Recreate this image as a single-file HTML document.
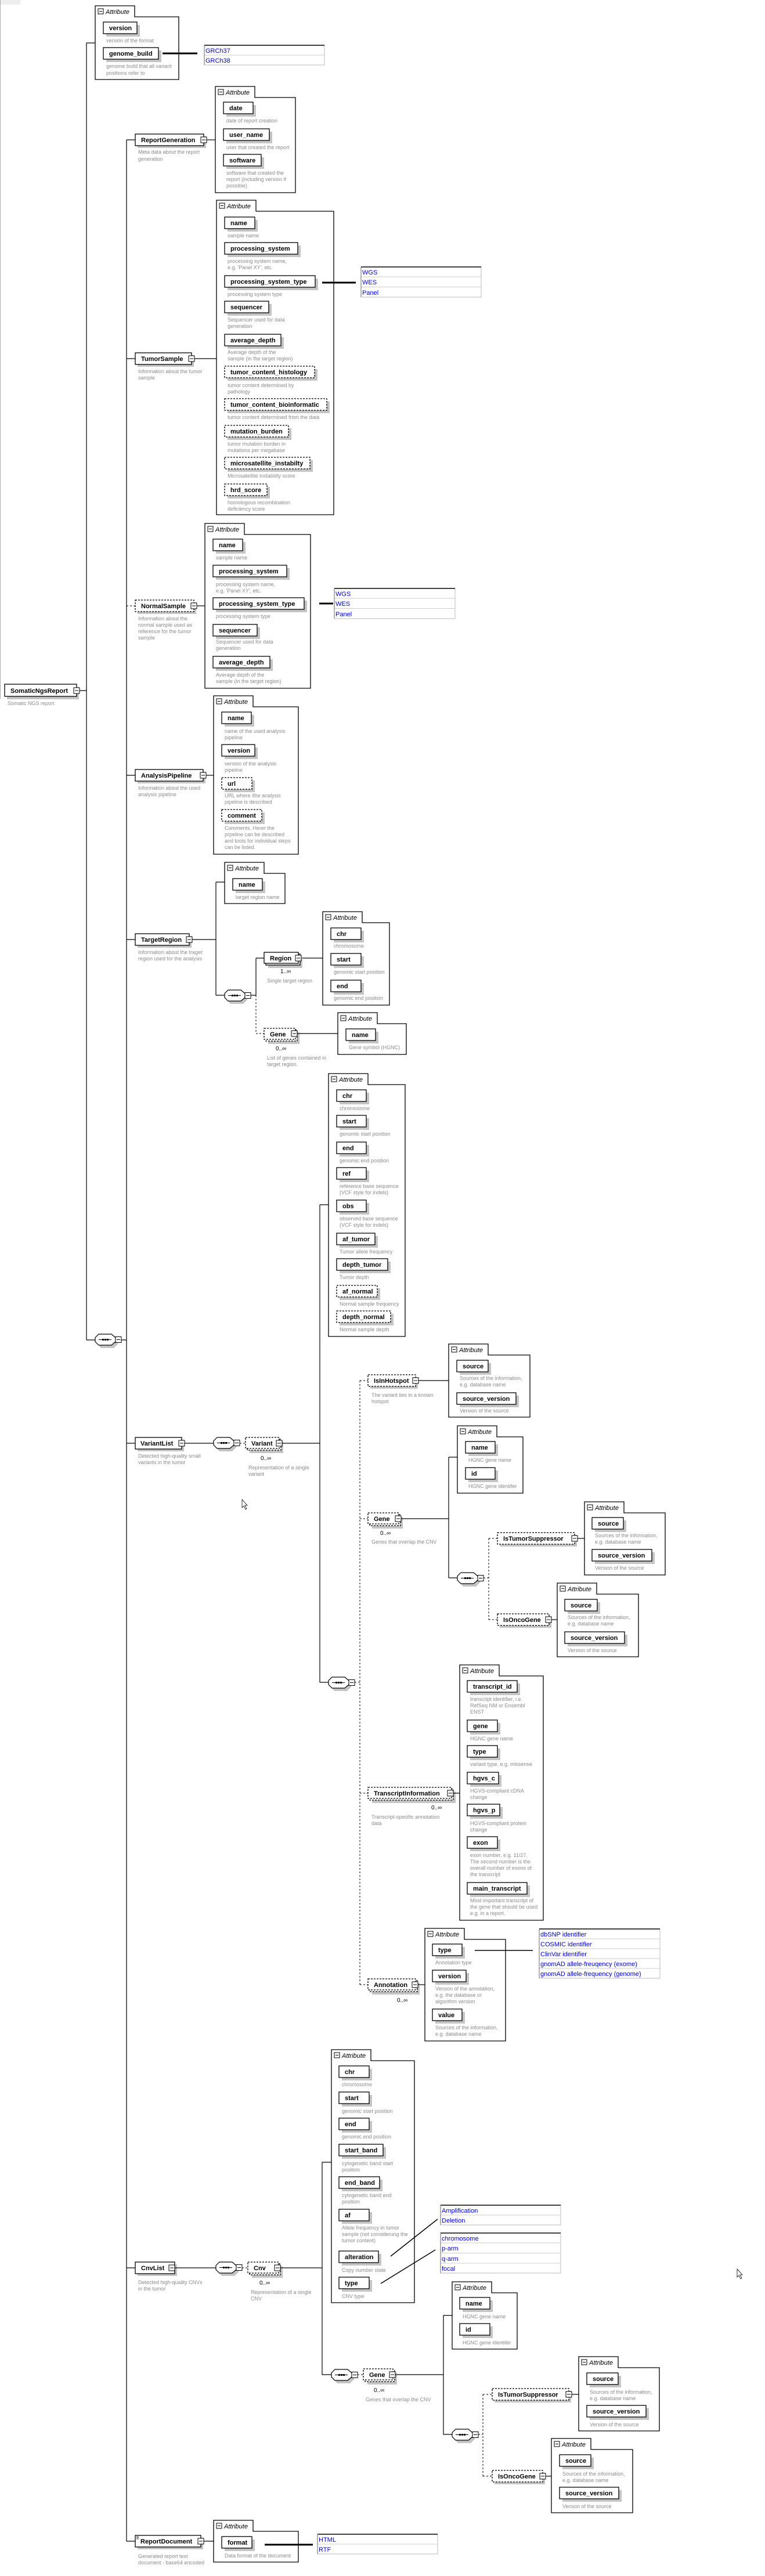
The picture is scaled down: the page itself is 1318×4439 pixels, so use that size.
<!DOCTYPE html>
<html><head><meta charset="utf-8"><style>
html,body{margin:0;padding:0;background:#fff}
svg{display:block}
text{font-family:"Liberation Sans",sans-serif}
.b{fill:#fff;stroke:#000;stroke-width:1.3}
.d{fill:#fff;stroke:#000;stroke-width:1.3;stroke-dasharray:3 2}
.s{fill:#c4c4c4}
.l{stroke:#000;stroke-width:1.2;fill:none}
.dl{stroke:#000;stroke-width:1;stroke-dasharray:3 3;fill:none}
.tk{stroke:#000;stroke-width:3;fill:none}
.n{font-weight:bold;font-size:11px;fill:#000}
.t{font-size:9px;fill:#8c8c8c}
.a{font-style:italic;font-size:11px;fill:#000}
.e{font-size:11px;fill:#0000ee}
.m{font-size:10px;fill:#000}
</style></head><body>
<svg width="1318" height="4439" viewBox="0 0 1318 4439" xmlns="http://www.w3.org/2000/svg">
<defs>
<g id="ex"><rect x="0" y="0" width="10" height="10" fill="#fff" stroke="#000" stroke-width="1"/><line x1="2" y1="5" x2="8" y2="5" stroke="#000"/></g>
<g id="sq"><polygon points="10,4 32,4 39,10 39,17 32,24 10,24 4,17 4,10" fill="#c4c4c4"/><polygon points="6,0 28,0 35,6 35,13 28,19 6,19 0,13 0,6" fill="#fff" stroke="#000" stroke-width="1.2"/><line x1="6" y1="9.5" x2="28" y2="9.5" stroke="#000"/><rect x="12" y="8" width="3" height="3"/><rect x="16" y="8" width="3" height="3"/><rect x="20" y="8" width="3" height="3"/><use href="#ex" x="35" y="4.5"/></g>
<g id="at"><rect x="5" y="5" width="9" height="9" fill="#fff" stroke="#000"/><line x1="7" y1="9.5" x2="12" y2="9.5" stroke="#000"/><text class="a" x="18" y="14">Attribute</text></g>
</defs>
<rect x="0" y="0" width="35" height="8" fill="#eee"/>
<line x1="0.5" y1="0" x2="0.5" y2="1204" stroke="#aaa"/>

<!-- main connectors -->
<path class="l" d="M149 74 V2309 M149 74 H164 M135 1190 H149 M149 2309 H164 M209 2309 H218 M218 241 V4379"/>
<path class="l" d="M218 241 H233 M218 618 H233 M218 1336 H233 M218 1619 H233 M218 2487 H233 M218 3908 H233 M218 4379 H233"/>
<path class="dl" d="M218 1044 H233"/>

<!-- root -->
<rect class="s" x="12" y="1184" width="124" height="21"/><rect class="b" x="8" y="1179" width="124" height="21"/><text class="n" x="18" y="1194">SomaticNgsReport</text><use href="#ex" x="127" y="1185"/>
<text class="t" x="13" y="1215">Somatic NGS report</text>

<!-- A1 -->
<g transform="translate(164,10)"><path class="b" d="M0 0h68v19H144V127H0Z"/><use href="#at"/></g>
<g transform="translate(178,38)"><rect class="s" x="5" y="5" width="58" height="20"/><rect class="b" width="58" height="20"/><text class="n" x="10" y="14">version</text></g>
<text class="t" x="183" y="73">version of the format</text>
<g transform="translate(178,82)"><rect class="s" x="5" y="5" width="95" height="20"/><rect class="b" width="95" height="20"/><text class="n" x="10" y="14">genome_build</text></g>
<text class="t" x="183" y="117">genome build that all variant</text><text class="t" x="183" y="129">positions refer to</text>
<line class="tk" x1="280" y1="92" x2="340" y2="92"/>
<g transform="translate(352,78)"><rect width="207" height="34" fill="#fff" stroke="#bbb"/><line x1="0" y1="17" x2="207" y2="17" stroke="#ccc"/><line x1="0" y1="0" x2="207" y2="0" stroke="#000" stroke-width="1.5"/><line x1="0" y1="0" x2="0" y2="34" stroke="#666"/><text class="e" x="2" y="13">GRCh37</text><text class="e" x="2" y="30">GRCh38</text></g>

<!-- ReportGeneration -->
<rect class="s" x="237" y="235" width="118" height="20"/><rect class="b" x="233" y="231" width="118" height="20"/><text class="n" x="243" y="245">ReportGeneration</text><use href="#ex" x="346" y="236"/>
<line class="l" x1="356" y1="241" x2="371" y2="241"/>
<text class="t" x="238" y="265">Meta data about the report</text><text class="t" x="238" y="277">generation</text>
<g transform="translate(371,149)"><path class="b" d="M0 0h68v19H138V183H0Z"/><use href="#at"/></g>
<g transform="translate(385,176)"><rect class="s" x="5" y="5" width="51" height="20"/><rect class="b" width="51" height="20"/><text class="n" x="10" y="14">date</text></g>
<text class="t" x="390" y="211">date of report creation</text>
<g transform="translate(385,222)"><rect class="s" x="5" y="5" width="79" height="20"/><rect class="b" width="79" height="20"/><text class="n" x="10" y="14">user_name</text></g>
<text class="t" x="390" y="257">user that created the report</text>
<g transform="translate(385,266)"><rect class="s" x="5" y="5" width="65" height="20"/><rect class="b" width="65" height="20"/><text class="n" x="10" y="14">software</text></g>
<text class="t" x="390" y="301">software that created the</text><text class="t" x="390" y="312">report (including version if</text><text class="t" x="390" y="323">possible)</text>

<!-- TumorSample -->
<rect class="s" x="237" y="612" width="97" height="20"/><rect class="b" x="233" y="608" width="97" height="20"/><text class="n" x="243" y="622">TumorSample</text><use href="#ex" x="325" y="613"/>
<line class="l" x1="335" y1="618" x2="373" y2="618"/>
<text class="t" x="238" y="643">Information about the tumor</text><text class="t" x="238" y="654">sample</text>
<g transform="translate(373,345)"><path class="b" d="M0 0h68v19H202V542H0Z"/><use href="#at"/></g>
<g transform="translate(387,374)"><rect class="s" x="5" y="5" width="52" height="20"/><rect class="b" width="52" height="20"/><text class="n" x="10" y="14">name</text></g>
<text class="t" x="392" y="409">sample name</text>
<g transform="translate(387,418)"><rect class="s" x="5" y="5" width="126" height="20"/><rect class="b" width="126" height="20"/><text class="n" x="10" y="14">processing_system</text></g>
<text class="t" x="392" y="453">processing system name,</text><text class="t" x="392" y="464">e.g. 'Panel XY', etc.</text>
<g transform="translate(387,475)"><rect class="s" x="5" y="5" width="156" height="20"/><rect class="b" width="156" height="20"/><text class="n" x="10" y="14">processing_system_type</text></g>
<text class="t" x="392" y="510">processing system type</text>
<g transform="translate(387,519)"><rect class="s" x="5" y="5" width="76" height="20"/><rect class="b" width="76" height="20"/><text class="n" x="10" y="14">sequencer</text></g>
<text class="t" x="392" y="554">Sequencer used for data</text><text class="t" x="392" y="565">generation</text>
<g transform="translate(387,576)"><rect class="s" x="5" y="5" width="97" height="20"/><rect class="b" width="97" height="20"/><text class="n" x="10" y="14">average_depth</text></g>
<text class="t" x="392" y="610">Average depth of the</text><text class="t" x="392" y="621">sample (in the target region)</text>
<g transform="translate(387,631)"><rect class="s" x="5" y="5" width="155" height="20"/><rect class="d" width="155" height="20"/><text class="n" x="10" y="14">tumor_content_histology</text></g>
<text class="t" x="392" y="667">tumor content determined by</text><text class="t" x="392" y="678">pathology</text>
<g transform="translate(387,687)"><rect class="s" x="5" y="5" width="176" height="20"/><rect class="d" width="176" height="20"/><text class="n" x="10" y="14">tumor_content_bioinformatic</text></g>
<text class="t" x="392" y="722">tumor content determined from the data</text>
<g transform="translate(387,733)"><rect class="s" x="5" y="5" width="110" height="20"/><rect class="d" width="110" height="20"/><text class="n" x="10" y="14">mutation_burden</text></g>
<text class="t" x="392" y="768">tumor mutation burden in</text><text class="t" x="392" y="779">mutations per megabase</text>
<g transform="translate(387,788)"><rect class="s" x="5" y="5" width="147" height="20"/><rect class="d" width="147" height="20"/><text class="n" x="10" y="14">microsatellite_instabilty</text></g>
<text class="t" x="392" y="823">Microsatellite instabiilty score</text>
<g transform="translate(387,834)"><rect class="s" x="5" y="5" width="73" height="20"/><rect class="d" width="73" height="20"/><text class="n" x="10" y="14">hrd_score</text></g>
<text class="t" x="392" y="869">homologous recombination</text><text class="t" x="392" y="880">deficiency score</text>
<line class="tk" x1="555" y1="487" x2="613" y2="487"/>
<g transform="translate(622,460)"><rect width="207" height="52" fill="#fff" stroke="#bbb"/><line x1="0" y1="17" x2="207" y2="17" stroke="#ccc"/><line x1="0" y1="34.5" x2="207" y2="34.5" stroke="#ccc"/><line x1="0" y1="0" x2="207" y2="0" stroke="#000" stroke-width="1.5"/><line x1="0" y1="0" x2="0" y2="52" stroke="#666"/><text class="e" x="2" y="13">WGS</text><text class="e" x="2" y="30">WES</text><text class="e" x="2" y="48">Panel</text></g>

<!-- NormalSample -->
<rect class="s" x="237" y="1038" width="101" height="20"/><rect class="d" x="233" y="1034" width="101" height="20"/><text class="n" x="243" y="1048">NormalSample</text><use href="#ex" x="329" y="1039"/>
<line class="l" x1="339" y1="1044" x2="353" y2="1044"/>
<text class="t" x="238" y="1069">Information about the</text><text class="t" x="238" y="1080">normal sample used as</text><text class="t" x="238" y="1091">reference for the tumor</text><text class="t" x="238" y="1102">sample</text>
<g transform="translate(353,902)"><path class="b" d="M0 0h68v19H182V284H0Z"/><use href="#at"/></g>
<g transform="translate(367,929)"><rect class="s" x="5" y="5" width="51" height="20"/><rect class="b" width="51" height="20"/><text class="n" x="10" y="14">name</text></g>
<text class="t" x="372" y="964">sample name</text>
<g transform="translate(367,974)"><rect class="s" x="5" y="5" width="127" height="20"/><rect class="b" width="127" height="20"/><text class="n" x="10" y="14">processing_system</text></g>
<text class="t" x="372" y="1010">processing system name,</text><text class="t" x="372" y="1021">e.g. 'Panel XY', etc.</text>
<g transform="translate(367,1030)"><rect class="s" x="5" y="5" width="157" height="20"/><rect class="b" width="157" height="20"/><text class="n" x="10" y="14">processing_system_type</text></g>
<text class="t" x="372" y="1065">processing system type</text>
<g transform="translate(367,1076)"><rect class="s" x="5" y="5" width="76" height="20"/><rect class="b" width="76" height="20"/><text class="n" x="10" y="14">sequencer</text></g>
<text class="t" x="372" y="1109">Sequencer used for data</text><text class="t" x="372" y="1120">generation</text>
<g transform="translate(367,1131)"><rect class="s" x="5" y="5" width="98" height="20"/><rect class="b" width="98" height="20"/><text class="n" x="10" y="14">average_depth</text></g>
<text class="t" x="372" y="1166">Average depth of the</text><text class="t" x="372" y="1177">sample (in the target region)</text>
<line class="tk" x1="550" y1="1040" x2="574" y2="1040"/>
<g transform="translate(576,1014)"><rect width="208" height="52" fill="#fff" stroke="#bbb"/><line x1="0" y1="17" x2="208" y2="17" stroke="#ccc"/><line x1="0" y1="34.5" x2="208" y2="34.5" stroke="#ccc"/><line x1="0" y1="0" x2="208" y2="0" stroke="#000" stroke-width="1.5"/><line x1="0" y1="0" x2="0" y2="52" stroke="#666"/><text class="e" x="2" y="13">WGS</text><text class="e" x="2" y="30">WES</text><text class="e" x="2" y="48">Panel</text></g>

<!-- AnalysisPipeline -->
<rect class="s" x="237" y="1330" width="117" height="20"/><rect class="b" x="233" y="1326" width="117" height="20"/><text class="n" x="243" y="1340">AnalysisPipeline</text><use href="#ex" x="345" y="1331"/>
<line class="l" x1="355" y1="1336" x2="368" y2="1336"/>
<text class="t" x="238" y="1361">Information about the used</text><text class="t" x="238" y="1372">analysis pipeline</text>
<g transform="translate(368,1199)"><path class="b" d="M0 0h68v19H146V273H0Z"/><use href="#at"/></g>
<g transform="translate(382,1227)"><rect class="s" x="5" y="5" width="51" height="20"/><rect class="b" width="51" height="20"/><text class="n" x="10" y="14">name</text></g>
<text class="t" x="387" y="1263">name of the used analysis</text><text class="t" x="387" y="1274">pipeline</text>
<g transform="translate(382,1283)"><rect class="s" x="5" y="5" width="57" height="20"/><rect class="b" width="57" height="20"/><text class="n" x="10" y="14">version</text></g>
<text class="t" x="387" y="1319">version of the analysis</text><text class="t" x="387" y="1330">pipeline</text>
<g transform="translate(382,1340)"><rect class="s" x="5" y="5" width="52" height="20"/><rect class="d" width="52" height="20"/><text class="n" x="10" y="14">url</text></g>
<text class="t" x="387" y="1374">URL where ithe analysis</text><text class="t" x="387" y="1385">pipeline is described</text>
<g transform="translate(382,1395)"><rect class="s" x="5" y="5" width="69" height="20"/><rect class="d" width="69" height="20"/><text class="n" x="10" y="14">comment</text></g>
<text class="t" x="387" y="1430">Comments. Herer the</text><text class="t" x="387" y="1441">prpeline can be described</text><text class="t" x="387" y="1452">and tools for individual steps</text><text class="t" x="387" y="1463">can be listed.</text>

<!-- TargetRegion -->
<rect class="s" x="237" y="1613" width="93" height="20"/><rect class="b" x="233" y="1609" width="93" height="20"/><text class="n" x="243" y="1623">TargetRegion</text><use href="#ex" x="321" y="1614"/>
<path class="l" d="M331 1619 H372 M372 1520 V1715 M372 1520 H387 M372 1715 H387"/>
<text class="t" x="238" y="1644">Information about the traget</text><text class="t" x="238" y="1655">region used for the analysis</text>
<g transform="translate(387,1486)"><path class="b" d="M0 0h68v19H104V71H0Z"/><use href="#at"/></g>
<g transform="translate(401,1514)"><rect class="s" x="5" y="5" width="51" height="20"/><rect class="b" width="51" height="20"/><text class="n" x="10" y="14">name</text></g>
<text class="t" x="406" y="1549">target region name</text>
<use href="#sq" x="387" y="1706"/>
<path class="l" d="M432 1715 H441 M441 1651 V1715 M441 1651 H455 M518 1651 H556"/>
<path class="dl" d="M441 1715 V1781 H455"/>
<rect class="s" x="462" y="1648" width="59" height="20"/><rect class="b" x="458" y="1644" width="59" height="19"/><rect class="b" x="455" y="1641" width="59" height="19"/><text class="n" x="465" y="1655">Region</text><use href="#ex" x="509" y="1646"/>
<text class="m" x="483" y="1677">1..∞</text><text class="t" x="460" y="1693">Single target region</text>
<g transform="translate(556,1571)"><path class="b" d="M0 0h68v19H115V161H0Z"/><use href="#at"/></g>
<g transform="translate(570,1599)"><rect class="s" x="5" y="5" width="52" height="20"/><rect class="b" width="52" height="20"/><text class="n" x="10" y="14">chr</text></g>
<text class="t" x="575" y="1633">chromosome</text>
<g transform="translate(570,1643)"><rect class="s" x="5" y="5" width="52" height="20"/><rect class="b" width="52" height="20"/><text class="n" x="10" y="14">start</text></g>
<text class="t" x="575" y="1678">genomic start position</text>
<g transform="translate(570,1689)"><rect class="s" x="5" y="5" width="52" height="20"/><rect class="b" width="52" height="20"/><text class="n" x="10" y="14">end</text></g>
<text class="t" x="575" y="1723">genomic end position</text>
<rect class="s" x="462" y="1779" width="54" height="20"/><rect class="d" x="458" y="1775" width="54" height="19"/><rect class="d" x="455" y="1772" width="54" height="19"/><text class="n" x="465" y="1786">Gene</text><use href="#ex" x="502" y="1776"/>
<line class="l" x1="512" y1="1781" x2="582" y2="1781"/>
<text class="m" x="475" y="1810">0..∞</text><text class="t" x="460" y="1826">List of genes contained in</text><text class="t" x="460" y="1837">target region.</text>
<g transform="translate(582,1745)"><path class="b" d="M0 0h68v19H118V72H0Z"/><use href="#at"/></g>
<g transform="translate(596,1773)"><rect class="s" x="5" y="5" width="51" height="20"/><rect class="b" width="51" height="20"/><text class="n" x="10" y="14">name</text></g>
<text class="t" x="601" y="1808">Gene symbol (HGNC)</text>

<!-- Variant attributes -->
<g transform="translate(566,1850)"><path class="b" d="M0 0h68v19H132V453H0Z"/><use href="#at"/></g>
<g transform="translate(580,1878)"><rect class="s" x="5" y="5" width="51" height="20"/><rect class="b" width="51" height="20"/><text class="n" x="10" y="14">chr</text></g>
<text class="t" x="585" y="1913">chromosome</text>
<g transform="translate(580,1922)"><rect class="s" x="5" y="5" width="51" height="20"/><rect class="b" width="51" height="20"/><text class="n" x="10" y="14">start</text></g>
<text class="t" x="585" y="1957">genomic start position</text>
<g transform="translate(580,1968)"><rect class="s" x="5" y="5" width="51" height="20"/><rect class="b" width="51" height="20"/><text class="n" x="10" y="14">end</text></g>
<text class="t" x="585" y="2003">genomic end position</text>
<g transform="translate(580,2012)"><rect class="s" x="5" y="5" width="51" height="20"/><rect class="b" width="51" height="20"/><text class="n" x="10" y="14">ref</text></g>
<text class="t" x="585" y="2047">reference base sequence</text><text class="t" x="585" y="2058">(VCF style for indels)</text>
<g transform="translate(580,2068)"><rect class="s" x="5" y="5" width="51" height="20"/><rect class="b" width="51" height="20"/><text class="n" x="10" y="14">obs</text></g>
<text class="t" x="585" y="2103">observed base sequence</text><text class="t" x="585" y="2114">(VCF style for indels)</text>
<g transform="translate(580,2125)"><rect class="s" x="5" y="5" width="66" height="20"/><rect class="b" width="66" height="20"/><text class="n" x="10" y="14">af_tumor</text></g>
<text class="t" x="585" y="2160">Tumor allele frequency</text>
<g transform="translate(580,2169)"><rect class="s" x="5" y="5" width="88" height="20"/><rect class="b" width="88" height="20"/><text class="n" x="10" y="14">depth_tumor</text></g>
<text class="t" x="585" y="2204">Tumor depth</text>
<g transform="translate(580,2215)"><rect class="s" x="5" y="5" width="70" height="20"/><rect class="d" width="70" height="20"/><text class="n" x="10" y="14">af_normal</text></g>
<text class="t" x="585" y="2250">Normal sample frequency</text>
<g transform="translate(580,2259)"><rect class="s" x="5" y="5" width="93" height="20"/><rect class="d" width="93" height="20"/><text class="n" x="10" y="14">depth_normal</text></g>
<text class="t" x="585" y="2294">Normal sample depth</text>

<!-- root sequence -->
<use href="#sq" x="164" y="2299"/>

<!-- VariantList -->
<rect class="s" x="237" y="2481" width="80" height="20"/><rect class="b" x="233" y="2477" width="80" height="20"/><text class="n" x="242" y="2491">VariantList</text><use href="#ex" x="308" y="2482"/>
<line class="l" x1="318" y1="2487" x2="368" y2="2487"/>
<text class="t" x="238" y="2512">Detected high-quality small</text><text class="t" x="238" y="2523">variants in the tumor</text>
<use href="#sq" x="368" y="2477"/>
<path class="dl" d="M413 2487 H423"/>
<rect class="s" x="430" y="2484" width="58" height="20"/><rect class="d" x="426" y="2480" width="58" height="19"/><rect class="d" x="423" y="2477" width="58" height="19"/><text class="n" x="433" y="2491">Variant</text><use href="#ex" x="476" y="2482"/>
<path class="l" d="M486 2487 H551 M551 2076 V2899 M551 2076 H566 M551 2899 H566"/>
<text class="m" x="449" y="2516">0..∞</text><text class="t" x="428" y="2532">Representation of a single</text><text class="t" x="428" y="2543">variant</text>
<use href="#sq" x="566" y="2890"/>
<path class="dl" d="M611 2899 H620 M620 2379 V3420 M620 2379 H634 M620 2617 H634 M620 3090 H634 M620 3420 H634"/>

<!-- IsInHotspot -->
<rect class="s" x="638" y="2373" width="82" height="20"/><rect class="d" x="634" y="2369" width="82" height="20"/><text class="n" x="644" y="2383">IsInHotspot</text><use href="#ex" x="711" y="2374"/>
<line class="l" x1="721" y1="2379" x2="773" y2="2379"/>
<text class="t" x="640" y="2407">The variant lies in a known</text><text class="t" x="640" y="2418">hotspot</text>
<g transform="translate(773,2316)"><path class="b" d="M0 0h68v19H140V126H0Z"/><use href="#at"/></g>
<g transform="translate(787,2344)"><rect class="s" x="5" y="5" width="54" height="20"/><rect class="b" width="54" height="20"/><text class="n" x="10" y="14">source</text></g>
<text class="t" x="792" y="2378">Sources of the information,</text><text class="t" x="792" y="2389">e.g. database name</text>
<g transform="translate(787,2400)"><rect class="s" x="5" y="5" width="102" height="20"/><rect class="b" width="102" height="20"/><text class="n" x="10" y="14">source_version</text></g>
<text class="t" x="792" y="2434">Version of the source</text>

<!-- Gene (variant) -->
<rect class="s" x="641" y="2614" width="53" height="20"/><rect class="d" x="637" y="2610" width="53" height="19"/><rect class="d" x="634" y="2607" width="53" height="19"/><text class="n" x="644" y="2621">Gene</text><use href="#ex" x="681" y="2612"/>
<path class="l" d="M691 2617 H773 M773 2511 V2719 M773 2511 H788 M773 2719 H788"/>
<text class="m" x="655" y="2645">0..∞</text><text class="t" x="640" y="2660">Genes that overlap the CNV</text>
<g transform="translate(788,2457)"><path class="b" d="M0 0h68v19H113V116H0Z"/><use href="#at"/></g>
<g transform="translate(802,2484)"><rect class="s" x="5" y="5" width="51" height="20"/><rect class="b" width="51" height="20"/><text class="n" x="10" y="14">name</text></g>
<text class="t" x="807" y="2519">HGNC gene name</text>
<g transform="translate(802,2529)"><rect class="s" x="5" y="5" width="51" height="20"/><rect class="b" width="51" height="20"/><text class="n" x="10" y="14">id</text></g>
<text class="t" x="807" y="2564">HGNC gene identifer</text>
<use href="#sq" x="788" y="2710"/>
<path class="dl" d="M833 2719 H842 M842 2651 V2791 M842 2651 H857 M842 2791 H857"/>
<rect class="s" x="861" y="2645" width="133" height="20"/><rect class="d" x="857" y="2641" width="133" height="20"/><text class="n" x="867" y="2655">IsTumorSuppressor</text><use href="#ex" x="985" y="2646"/>
<line class="l" x1="995" y1="2651" x2="1007" y2="2651"/>
<g transform="translate(1007,2588)"><path class="b" d="M0 0h68v19H139V126H0Z"/><use href="#at"/></g>
<g transform="translate(1020,2615)"><rect class="s" x="5" y="5" width="54" height="20"/><rect class="b" width="54" height="20"/><text class="n" x="10" y="14">source</text></g>
<text class="t" x="1025" y="2649">Sources of the information,</text><text class="t" x="1025" y="2660">e.g. database name</text>
<g transform="translate(1020,2670)"><rect class="s" x="5" y="5" width="103" height="20"/><rect class="b" width="103" height="20"/><text class="n" x="10" y="14">source_version</text></g>
<text class="t" x="1025" y="2705">Version of the source</text>
<rect class="s" x="861" y="2785" width="89" height="20"/><rect class="d" x="857" y="2781" width="89" height="20"/><text class="n" x="867" y="2795">IsOncoGene</text><use href="#ex" x="940" y="2786"/>
<line class="l" x1="950" y1="2791" x2="960" y2="2791"/>
<g transform="translate(960,2728)"><path class="b" d="M0 0h68v19H140V127H0Z"/><use href="#at"/></g>
<g transform="translate(973,2756)"><rect class="s" x="5" y="5" width="56" height="20"/><rect class="b" width="56" height="20"/><text class="n" x="10" y="14">source</text></g>
<text class="t" x="978" y="2790">Sources of the information,</text><text class="t" x="978" y="2801">e.g. database name</text>
<g transform="translate(973,2812)"><rect class="s" x="5" y="5" width="103" height="20"/><rect class="b" width="103" height="20"/><text class="n" x="10" y="14">source_version</text></g>
<text class="t" x="978" y="2847">Version of the source</text>

<!-- TranscriptInformation -->
<rect class="s" x="641" y="3087" width="144" height="20"/><rect class="d" x="637" y="3083" width="144" height="19"/><rect class="d" x="634" y="3080" width="144" height="19"/><text class="n" x="644" y="3094">TranscriptInformation</text><use href="#ex" x="771" y="3085"/>
<line class="l" x1="781" y1="3090" x2="792" y2="3090"/>
<text class="m" x="743" y="3118">0..∞</text><text class="t" x="640" y="3134">Transcript-specific annotation</text><text class="t" x="640" y="3145">data</text>
<g transform="translate(792,2869)"><path class="b" d="M0 0h68v19H144V440H0Z"/><use href="#at"/></g>
<g transform="translate(805,2896)"><rect class="s" x="5" y="5" width="86" height="20"/><rect class="b" width="86" height="20"/><text class="n" x="10" y="14">transcript_id</text></g>
<text class="t" x="810" y="2931">transcript identifier, i.e.</text><text class="t" x="810" y="2942">RefSeq NM or Ensembl</text><text class="t" x="810" y="2953">ENST</text>
<g transform="translate(805,2964)"><rect class="s" x="5" y="5" width="52" height="20"/><rect class="b" width="52" height="20"/><text class="n" x="10" y="14">gene</text></g>
<text class="t" x="810" y="2999">HGNC gene name</text>
<g transform="translate(805,3008)"><rect class="s" x="5" y="5" width="52" height="20"/><rect class="b" width="52" height="20"/><text class="n" x="10" y="14">type</text></g>
<text class="t" x="810" y="3043">variant type, e.g. missense</text>
<g transform="translate(805,3054)"><rect class="s" x="5" y="5" width="54" height="20"/><rect class="b" width="54" height="20"/><text class="n" x="10" y="14">hgvs_c</text></g>
<text class="t" x="810" y="3089">HGVS-compliant  cDNA</text><text class="t" x="810" y="3100">change</text>
<g transform="translate(805,3109)"><rect class="s" x="5" y="5" width="56" height="20"/><rect class="b" width="56" height="20"/><text class="n" x="10" y="14">hgvs_p</text></g>
<text class="t" x="810" y="3145">HGVS-compliant protein</text><text class="t" x="810" y="3156">change</text>
<g transform="translate(805,3165)"><rect class="s" x="5" y="5" width="52" height="20"/><rect class="b" width="52" height="20"/><text class="n" x="10" y="14">exon</text></g>
<text class="t" x="810" y="3200">exon number, e.g. 11/27.</text><text class="t" x="810" y="3211">The second number is the</text><text class="t" x="810" y="3222">overall number of exons of</text><text class="t" x="810" y="3233">the transcript</text>
<g transform="translate(805,3244)"><rect class="s" x="5" y="5" width="103" height="20"/><rect class="b" width="103" height="20"/><text class="n" x="10" y="14">main_transcript</text></g>
<text class="t" x="810" y="3278">Most important transcript of</text><text class="t" x="810" y="3289">the gene that should be used</text><text class="t" x="810" y="3300">e.g. in a report.</text>

<!-- Annotation -->
<rect class="s" x="641" y="3417" width="82" height="20"/><rect class="d" x="637" y="3413" width="82" height="19"/><rect class="d" x="634" y="3410" width="82" height="19"/><text class="n" x="644" y="3424">Annotation</text><use href="#ex" x="710" y="3415"/>
<line class="l" x1="720" y1="3420" x2="732" y2="3420"/>
<text class="m" x="684" y="3450">0..∞</text>
<g transform="translate(732,3323)"><path class="b" d="M0 0h68v19H139V194H0Z"/><use href="#at"/></g>
<g transform="translate(745,3350)"><rect class="s" x="5" y="5" width="51" height="20"/><rect class="b" width="51" height="20"/><text class="n" x="10" y="14">type</text></g>
<text class="t" x="750" y="3385">Annotation type</text>
<g transform="translate(745,3395)"><rect class="s" x="5" y="5" width="58" height="20"/><rect class="b" width="58" height="20"/><text class="n" x="10" y="14">version</text></g>
<text class="t" x="750" y="3430">Version of the annotation,</text><text class="t" x="750" y="3441">e.g. the database or</text><text class="t" x="750" y="3452">algorithm version</text>
<g transform="translate(745,3462)"><rect class="s" x="5" y="5" width="51" height="20"/><rect class="b" width="51" height="20"/><text class="n" x="10" y="14">value</text></g>
<text class="t" x="750" y="3497">Sources of the information,</text><text class="t" x="750" y="3508">e.g. database name</text>
<line x1="818" y1="3361" x2="918" y2="3361" stroke="#000" stroke-width="1.5"/>
<g transform="translate(929,3324)"><rect width="208" height="85" fill="#fff" stroke="#bbb"/><line x1="0" y1="17" x2="208" y2="17" stroke="#ccc"/><line x1="0" y1="34" x2="208" y2="34" stroke="#ccc"/><line x1="0" y1="51" x2="208" y2="51" stroke="#ccc"/><line x1="0" y1="68" x2="208" y2="68" stroke="#ccc"/><line x1="0" y1="0" x2="208" y2="0" stroke="#000" stroke-width="1.5"/><line x1="0" y1="0" x2="0" y2="85" stroke="#666"/><text class="e" x="2" y="13">dbSNP identifier</text><text class="e" x="2" y="30">COSMIC identifier</text><text class="e" x="2" y="47">ClinVar identifier</text><text class="e" x="2" y="64">gnomAD allele-freuqency (exome)</text><text class="e" x="2" y="81">gnomAD allele-frequency (genome)</text></g>

<!-- CnvList -->
<rect class="s" x="237" y="3902" width="68" height="20"/><rect class="b" x="233" y="3898" width="68" height="20"/><text class="n" x="243" y="3912">CnvList</text><use href="#ex" x="291" y="3903"/>
<line class="l" x1="301" y1="3908" x2="372" y2="3908"/>
<text class="t" x="238" y="3936">Detected high-quality CNVs</text><text class="t" x="238" y="3947">in the tumor</text>
<use href="#sq" x="372" y="3898"/>
<path class="dl" d="M417 3908 H427"/>
<rect class="s" x="434" y="3905" width="53" height="20"/><rect class="d" x="430" y="3901" width="53" height="19"/><rect class="d" x="427" y="3898" width="53" height="19"/><text class="n" x="437" y="3912">Cnv</text><use href="#ex" x="473" y="3903"/>
<path class="l" d="M483 3908 H555 M555 3726 V4092 M555 3726 H571 M555 4092 H571"/>
<text class="m" x="447" y="3937">0..∞</text><text class="t" x="432" y="3953">Representation of a single</text><text class="t" x="432" y="3964">CNV</text>
<g transform="translate(571,3532)"><path class="b" d="M0 0h68v19H143V436H0Z"/><use href="#at"/></g>
<g transform="translate(584,3560)"><rect class="s" x="5" y="5" width="52" height="20"/><rect class="b" width="52" height="20"/><text class="n" x="10" y="14">chr</text></g>
<text class="t" x="589" y="3595">chromosome</text>
<g transform="translate(584,3605)"><rect class="s" x="5" y="5" width="52" height="20"/><rect class="b" width="52" height="20"/><text class="n" x="10" y="14">start</text></g>
<text class="t" x="589" y="3641">genomic start position</text>
<g transform="translate(584,3650)"><rect class="s" x="5" y="5" width="52" height="20"/><rect class="b" width="52" height="20"/><text class="n" x="10" y="14">end</text></g>
<text class="t" x="589" y="3685">genomic end position</text>
<g transform="translate(584,3695)"><rect class="s" x="5" y="5" width="76" height="20"/><rect class="b" width="76" height="20"/><text class="n" x="10" y="14">start_band</text></g>
<text class="t" x="589" y="3731">cytogenetic band start</text><text class="t" x="589" y="3742">position</text>
<g transform="translate(584,3751)"><rect class="s" x="5" y="5" width="70" height="20"/><rect class="b" width="70" height="20"/><text class="n" x="10" y="14">end_band</text></g>
<text class="t" x="589" y="3786">cytogenetic band end</text><text class="t" x="589" y="3797">position</text>
<g transform="translate(584,3807)"><rect class="s" x="5" y="5" width="52" height="20"/><rect class="b" width="52" height="20"/><text class="n" x="10" y="14">af</text></g>
<text class="t" x="589" y="3842">Allele frequency in tumor</text><text class="t" x="589" y="3853">sample (not considerung the</text><text class="t" x="589" y="3864">tumor content)</text>
<g transform="translate(584,3879)"><rect class="s" x="5" y="5" width="68" height="20"/><rect class="b" width="68" height="20"/><text class="n" x="10" y="14">alteration</text></g>
<text class="t" x="589" y="3915">Copy number state</text>
<g transform="translate(584,3924)"><rect class="s" x="5" y="5" width="52" height="20"/><rect class="b" width="52" height="20"/><text class="n" x="10" y="14">type</text></g>
<text class="t" x="589" y="3960">CNV type</text>
<line x1="673" y1="3888" x2="754" y2="3824" stroke="#000" stroke-width="1.5"/>
<line x1="656" y1="3935" x2="750" y2="3877" stroke="#000" stroke-width="1.5"/>
<g transform="translate(759,3800)"><rect width="207" height="34" fill="#fff" stroke="#bbb"/><line x1="0" y1="17" x2="207" y2="17" stroke="#ccc"/><line x1="0" y1="0" x2="207" y2="0" stroke="#000" stroke-width="1.5"/><line x1="0" y1="0" x2="0" y2="34" stroke="#666"/><text class="e" x="2" y="13">Amplification</text><text class="e" x="2" y="30">Deletion</text></g>
<g transform="translate(759,3848)"><rect width="207" height="69" fill="#fff" stroke="#bbb"/><line x1="0" y1="17" x2="207" y2="17" stroke="#ccc"/><line x1="0" y1="34.5" x2="207" y2="34.5" stroke="#ccc"/><line x1="0" y1="52" x2="207" y2="52" stroke="#ccc"/><line x1="0" y1="0" x2="207" y2="0" stroke="#000" stroke-width="1.5"/><line x1="0" y1="0" x2="0" y2="69" stroke="#666"/><text class="e" x="2" y="13">chromosome</text><text class="e" x="2" y="30">p-arm</text><text class="e" x="2" y="48">q-arm</text><text class="e" x="2" y="65">focal</text></g>

<!-- CNV Gene -->
<use href="#sq" x="571" y="4083"/>
<path class="dl" d="M616 4092 H626"/>
<rect class="s" x="633" y="4089" width="51" height="20"/><rect class="d" x="629" y="4085" width="51" height="19"/><rect class="d" x="626" y="4082" width="51" height="19"/><text class="n" x="636" y="4096">Gene</text><use href="#ex" x="671" y="4087"/>
<path class="l" d="M681 4092 H764 M764 3990 V4195 M764 3990 H779 M764 4195 H779"/>
<text class="m" x="644" y="4122">0..∞</text><text class="t" x="630" y="4138">Genes that overlap the CNV</text>
<g transform="translate(779,3932)"><path class="b" d="M0 0h68v19H112V116H0Z"/><use href="#at"/></g>
<g transform="translate(792,3959)"><rect class="s" x="5" y="5" width="52" height="20"/><rect class="b" width="52" height="20"/><text class="n" x="10" y="14">name</text></g>
<text class="t" x="797" y="3995">HGNC gene name</text>
<g transform="translate(792,4004)"><rect class="s" x="5" y="5" width="52" height="20"/><rect class="b" width="52" height="20"/><text class="n" x="10" y="14">id</text></g>
<text class="t" x="797" y="4040">HGNC gene identifer</text>
<use href="#sq" x="779" y="4186"/>
<path class="dl" d="M824 4195 H832 M832 4126 V4267 M832 4126 H848 M832 4267 H848"/>
<rect class="s" x="852" y="4120" width="132" height="20"/><rect class="d" x="848" y="4116" width="132" height="20"/><text class="n" x="858" y="4130">IsTumorSuppressor</text><use href="#ex" x="975" y="4121"/>
<line class="l" x1="985" y1="4126" x2="997" y2="4126"/>
<g transform="translate(997,4061)"><path class="b" d="M0 0h68v19H139V128H0Z"/><use href="#at"/></g>
<g transform="translate(1011,4089)"><rect class="s" x="5" y="5" width="54" height="20"/><rect class="b" width="54" height="20"/><text class="n" x="10" y="14">source</text></g>
<text class="t" x="1016" y="4125">Sources of the information,</text><text class="t" x="1016" y="4136">e.g. database name</text>
<g transform="translate(1011,4145)"><rect class="s" x="5" y="5" width="102" height="20"/><rect class="b" width="102" height="20"/><text class="n" x="10" y="14">source_version</text></g>
<text class="t" x="1016" y="4181">Version of the source</text>
<rect class="s" x="852" y="4261" width="87" height="20"/><rect class="d" x="848" y="4257" width="87" height="20"/><text class="n" x="858" y="4271">IsOncoGene</text><use href="#ex" x="930" y="4262"/>
<line class="l" x1="940" y1="4267" x2="950" y2="4267"/>
<g transform="translate(950,4202)"><path class="b" d="M0 0h68v19H140V128H0Z"/><use href="#at"/></g>
<g transform="translate(964,4230)"><rect class="s" x="5" y="5" width="54" height="20"/><rect class="b" width="54" height="20"/><text class="n" x="10" y="14">source</text></g>
<text class="t" x="969" y="4266">Sources of the information,</text><text class="t" x="969" y="4277">e.g. database name</text>
<g transform="translate(964,4286)"><rect class="s" x="5" y="5" width="102" height="20"/><rect class="b" width="102" height="20"/><text class="n" x="10" y="14">source_version</text></g>
<text class="t" x="969" y="4322">Version of the source</text>

<!-- ReportDocument -->
<rect class="s" x="237" y="4373" width="113" height="20"/><rect class="b" x="233" y="4369" width="113" height="20"/><text class="n" x="242" y="4383">ReportDocument</text><use href="#ex" x="341" y="4374"/>
<path d="M235 4371h4M235 4373h4M235 4375h4" stroke="#000" stroke-width="0.8"/>
<line class="l" x1="351" y1="4379" x2="368" y2="4379"/>
<text class="t" x="238" y="4408">Generated report text</text><text class="t" x="238" y="4419">document - base64 encoded</text>
<g transform="translate(368,4343)"><path class="b" d="M0 0h68v19H146V72H0Z"/><use href="#at"/></g>
<g transform="translate(382,4371)"><rect class="s" x="5" y="5" width="52" height="20"/><rect class="b" width="52" height="20"/><text class="n" x="10" y="14">format</text></g>
<text class="t" x="387" y="4407">Data format of the document</text>
<line class="tk" x1="456" y1="4385" x2="539" y2="4385"/>
<g transform="translate(547,4367)"><rect width="207" height="34" fill="#fff" stroke="#bbb"/><line x1="0" y1="17" x2="207" y2="17" stroke="#ccc"/><line x1="0" y1="0" x2="207" y2="0" stroke="#000" stroke-width="1.5"/><line x1="0" y1="0" x2="0" y2="34" stroke="#666"/><text class="e" x="2" y="13">HTML</text><text class="e" x="2" y="30">RTF</text></g>

<!-- cursors -->
<path d="M417 2584 l0 14 l3 -3 l3 6 l2 -1 l-3 -6 l4 0 Z" fill="#fff" stroke="#000" stroke-width="0.8"/>
<path d="M1270 3910 l0 14 l3 -3 l3 6 l2 -1 l-3 -6 l4 0 Z" fill="#fff" stroke="#000" stroke-width="0.8"/>
</svg>
</body></html>
